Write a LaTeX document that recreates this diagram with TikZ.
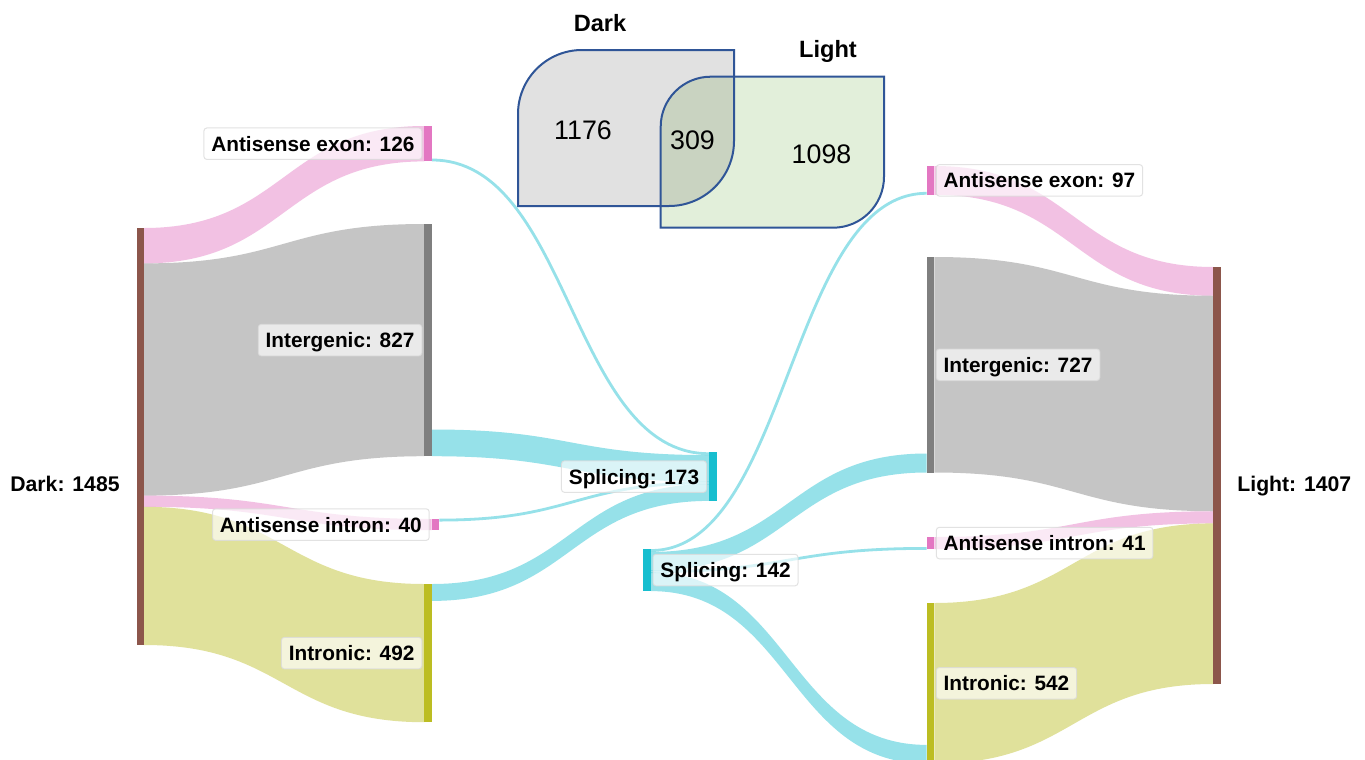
\documentclass[tikz,border=0pt]{standalone}
\usepackage{fontspec}
\setmainfont{Liberation Sans}
\definecolor{cbrown}{HTML}{8C564B}
\definecolor{cpink}{HTML}{E377C2}
\definecolor{cgrey}{HTML}{7F7F7F}
\definecolor{colive}{HTML}{BCBD22}
\definecolor{ccyan}{HTML}{17BECF}
\definecolor{vennblue}{HTML}{2F5597}
\definecolor{venngrey}{HTML}{E1E1E1}
\definecolor{venngreen}{HTML}{E2EFDA}
\definecolor{vennover}{HTML}{C9D3C1}
\newcommand{\sband}[7]{\fill[#7] (#1,#2) .. controls ({(#1+#4)/2},#2) and ({(#1+#4)/2},#5) .. (#4,#5) -- (#4,#6) .. controls ({(#1+#4)/2},#6) and ({(#1+#4)/2},#3) .. (#1,#3) -- cycle;}
\newcommand{\sline}[5]{\draw[#5] (#1,#2) .. controls ({(#1+#3)/2},#2) and ({(#1+#3)/2},#4) .. (#3,#4);}
\newcommand{\barnode}[6]{\node[barbox, fill=#6, minimum width={(#3-#2)*0.5pt}, minimum height={(#5-#4)*0.5pt}] (#1) at ({(#2+#3)/2},{(#4+#5)/2}) {};}
\begin{document}
\begin{tikzpicture}[x=0.5pt,y=-0.5pt,
  flowpink/.style={fill=cpink, fill opacity=0.45},
  flowgrey/.style={fill=cgrey, fill opacity=0.45},
  flowolive/.style={fill=colive, fill opacity=0.45},
  flowcyan/.style={fill=ccyan, fill opacity=0.45},
  thincyan/.style={draw=ccyan, draw opacity=0.45, line width=1.4pt},
  barbox/.style={rectangle, draw=none, inner sep=0pt, outer sep=0pt},
  lbl/.style={rectangle, fill=white, fill opacity=0.65, text opacity=1, draw=black!14, draw opacity=0.8,
    rounded corners=1.5pt, line width=0.5pt, inner xsep=3.7pt, inner ysep=0pt,
    minimum height=15.75pt, text height=7.4pt, text depth=0pt,
    font=\fontsize{10.4}{12}\selectfont\bfseries},
  lleft/.style={lbl, anchor=east, xshift=-1pt},
  lright/.style={lbl, anchor=west, xshift=0.75pt},
  side/.style={font=\fontsize{10.6}{12}\selectfont\bfseries, inner sep=0pt, anchor=base west},
  venntitle/.style={font=\fontsize{11.8}{14}\selectfont\bfseries, inner sep=0pt, anchor=base},
  vennnum/.style={font=\fontsize{13.4}{16}\selectfont, inner sep=0pt, anchor=base},
  vennline/.style={draw=vennblue, line width=1pt}
]
\useasboundingbox (0,0) rectangle (1365,760);
\fill[white] (0,0) rectangle (1365,760);
\clip (0,0) rectangle (1365,760);

% ---------- flows, left half ----------
\sband{144}{228}{263.4}{424.3}{126}{161.4}{flowpink}
\sband{144}{263.4}{495.6}{424.3}{224}{456.2}{flowgrey}
\sband{144}{495.6}{506.8}{431.7}{519}{530.2}{flowpink}
\sband{144}{506.8}{645}{424.3}{584}{722.2}{flowolive}
\sline{432}{160}{709}{453.7}{thincyan}
\sband{432}{429.5}{456.2}{709}{455.1}{481.8}{flowcyan}
\sline{439.3}{520.1}{709}{482.9}{thincyan}
\sband{432}{584}{600.9}{709}{484}{500.9}{flowcyan}
% ---------- flows, right half ----------
\sline{651}{550.5}{926.7}{193.3}{thincyan}
\sband{651}{551.96}{570.93}{926.7}{453.5}{472.5}{flowcyan}
\sline{651}{571.7}{926.7}{548.4}{thincyan}
\sband{651}{572.41}{591.1}{926.7}{744.9}{763.6}{flowcyan}
\sband{934.3}{166}{194.75}{1213.3}{267}{295.75}{flowpink}
\sband{934.3}{257}{472.5}{1213.3}{295.75}{511.25}{flowgrey}
\sband{934.3}{537}{549.15}{1213.3}{511.25}{523.4}{flowpink}
\sband{934.3}{603}{763.6}{1213.3}{523.4}{684}{flowolive}

% ---------- node bars ----------
\barnode{dark}{136.7}{144}{228}{645}{cbrown}
\barnode{ae1}{424.3}{432}{126}{161.4}{cpink}
\barnode{ig1}{424.3}{432}{224}{456.2}{cgrey}
\barnode{ai1}{431.7}{439.3}{519}{530.2}{cpink}
\barnode{in1}{424.3}{432}{584}{722.2}{colive}
\barnode{s173}{709}{716.7}{452.3}{500.9}{ccyan}
\barnode{s142}{643.3}{651}{549}{591.1}{ccyan}
\barnode{ae2}{926.7}{934.3}{166}{194.75}{cpink}
\barnode{ig2}{926.7}{934.3}{257}{472.5}{cgrey}
\barnode{ai2}{926.7}{934.3}{537}{549.15}{cpink}
\barnode{in2}{926.7}{934.3}{603}{763.6}{colive}
\barnode{light}{1213.3}{1220.7}{267}{684}{cbrown}

% ---------- labels ----------
\node[lleft] (lae1) at (ae1.west) {Antisense exon: 126};
\node[lleft] (lig1) at (ig1.west) {Intergenic: 827};
\node[lleft] (lai1) at (ai1.west) {Antisense intron: 40};
\node[lleft] (lin1) at (in1.west) {Intronic: 492};
\node[lleft] (ls173) at (s173.west) {Splicing: 173};
\node[lright] (ls142) at (s142.east) {Splicing: 142};
\node[lright] (lae2) at (ae2.east) {Antisense exon: 97};
\node[lright] (lig2) at (ig2.east) {Intergenic: 727};
\node[lright] (lai2) at (ai2.east) {Antisense intron: 41};
\node[lright] (lin2) at (in2.east) {Intronic: 542};
\node[side] (ldark) at (10,491) {Dark: 1485};
\node[side] (llight) at (1237,491) {Light: 1407};

% ---------- Venn ----------
\def\darkshape{(518,206) -- (518,114) .. controls (518,78.65) and (546.65,50) .. (582,50) -- (734,50) -- (734,141) .. controls (734,176.9) and (704.9,206) .. (669,206) -- cycle}
\def\lightshape{(660.7,227.7) -- (660.7,126.7) .. controls (660.7,99.1) and (683.1,76.7) .. (710.7,76.7) -- (884,76.7) -- (884,176.7) .. controls (884,204.9) and (861.2,227.7) .. (833,227.7) -- cycle}
\fill[venngrey] \darkshape;
\fill[venngreen] \lightshape;
\begin{scope}
  \clip \darkshape;
  \fill[vennover] \lightshape;
\end{scope}
\draw[vennline] \darkshape;
\draw[vennline] \lightshape;
\node[venntitle] (tdark) at (600,31.7) {Dark};
\node[venntitle] (tlight) at (828,57.3) {Light};
\node[vennnum] (n1176) at (583,139) {1176};
\node[vennnum] (n309) at (692.5,149) {309};
\node[vennnum] (n1098) at (821.5,163) {1098};
\end{tikzpicture}
\end{document}
